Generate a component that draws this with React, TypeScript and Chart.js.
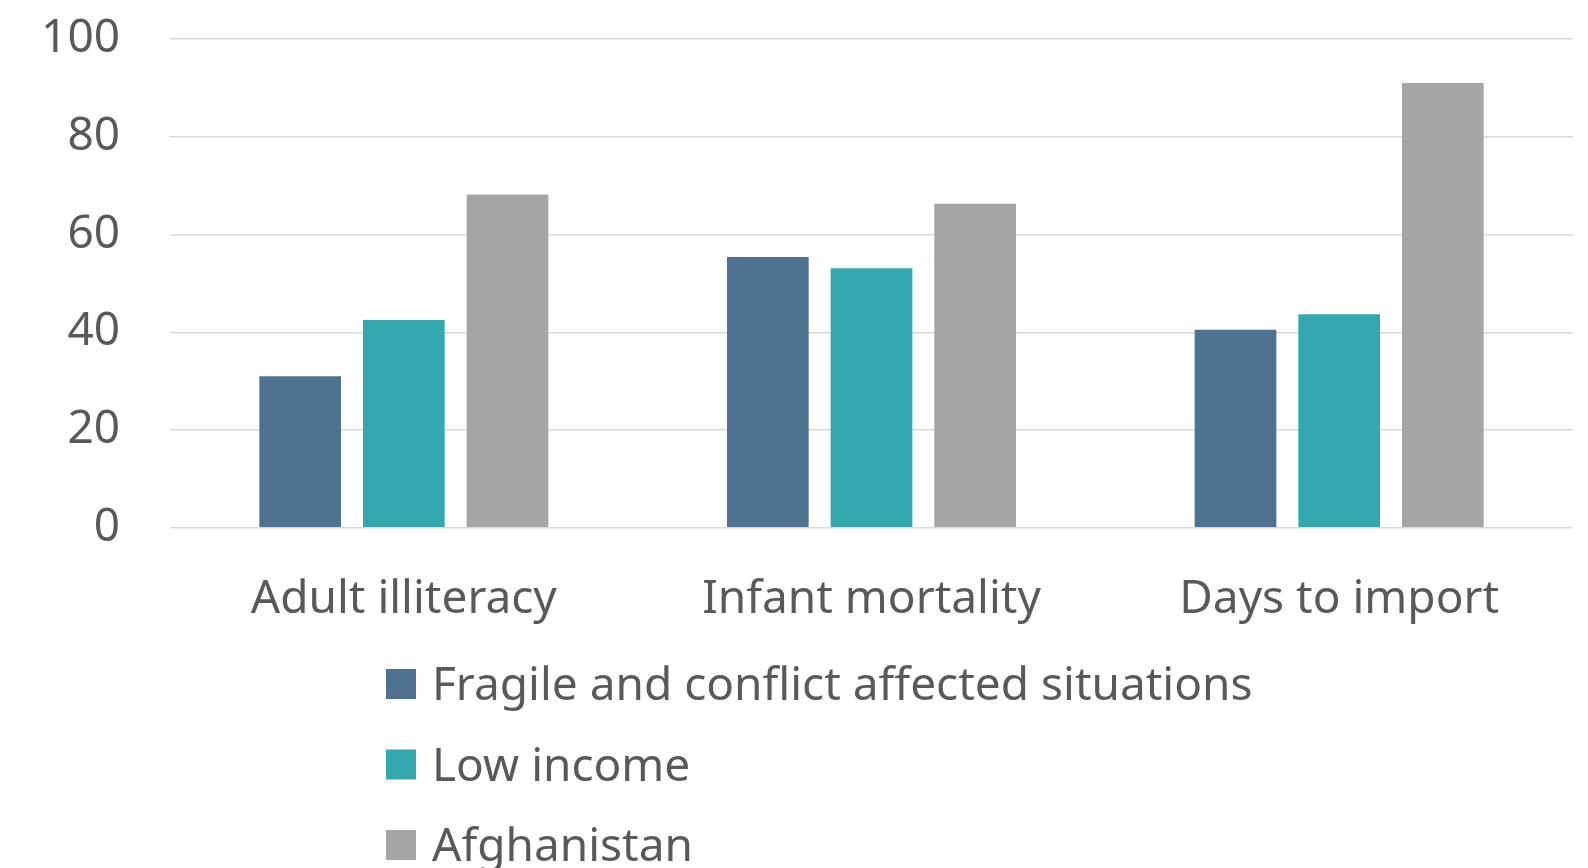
import React, { useEffect, useRef } from "react";
import { Chart, registerables } from "chart.js";

Chart.register(...registerables);

const categories = ["Adult illiteracy", "Infant mortality", "Days to import"];
const seriesNames = ["Fragile and conflict affected situations", "Low income", "Afghanistan"];
const fragileValues = [31.0, 55.4, 40.5];
const lowIncomeValues = [42.5, 53.1, 43.7];
const afghanistanValues = [68.2, 66.3, 91.0];
const yTicks = [0, 20, 40, 60, 80, 100];

const colors = ["#4f7291", "#34a8af", "#a5a5a5"];
const textColor = "#595959";
const fontFamily = "'Noto Sans', 'Open Sans', sans-serif";

const legendPlugin = {
  id: "stackedLegend",
  afterDraw(chart: any, _args: any, opts: any) {
    const ctx = chart.ctx;
    ctx.save();
    ctx.font = `${opts.fontSize}px ${fontFamily}`;
    ctx.textBaseline = "middle";
    ctx.textAlign = "left";
    chart.data.datasets.forEach((ds: any, i: number) => {
      const cy = opts.top + i * opts.rowGap;
      ctx.fillStyle = ds.backgroundColor;
      ctx.fillRect(opts.left, cy - opts.box / 2, opts.box, opts.box);
      ctx.fillStyle = textColor;
      ctx.fillText(ds.label, opts.left + opts.box + opts.gap, cy + opts.textShift);
    });
    ctx.restore();
  },
};

export default function App() {
  const ref = useRef<HTMLCanvasElement | null>(null);
  useEffect(() => {
    if (!ref.current) return;
    const chart = new Chart(ref.current, {
      type: "bar",
      data: {
        labels: categories,
        datasets: [
          { label: seriesNames[0], data: fragileValues, backgroundColor: colors[0] },
          { label: seriesNames[1], data: lowIncomeValues, backgroundColor: colors[1] },
          { label: seriesNames[2], data: afghanistanValues, backgroundColor: colors[2] },
        ],
      },
      options: {
        responsive: false,
        animation: false,
        layout: { padding: { top: 39, right: 15, bottom: 205, left: 0 } },
        datasets: {
          bar: { categoryPercentage: 0.665, barPercentage: 0.788, borderWidth: 0 },
        },
        scales: {
          x: {
            grid: { display: false },
            border: { display: false },
            ticks: {
              color: textColor,
              padding: 36,
              font: { family: fontFamily, size: 46 },
              maxRotation: 0,
            },
          },
          y: {
            min: 0,
            max: 100,
            afterBuildTicks(scale: any) {
              scale.ticks = yTicks.map((v) => ({ value: v }));
            },
            afterFit(scale: any) {
              scale.width = 170;
            },
            grid: {
              color: "#d9d9d9",
              lineWidth: 1.5,
              drawTicks: true,
              tickLength: 40,
              tickColor: "rgba(0,0,0,0)",
            },
            border: { display: false },
            ticks: {
              color: textColor,
              padding: 10,
              font: { family: fontFamily, size: 46 },
            },
          },
        },
        plugins: {
          legend: { display: false },
          tooltip: { enabled: false },
          stackedLegend: { left: 386, top: 684, rowGap: 80.5, box: 30, gap: 16, fontSize: 46, textShift: 3 },
        } as any,
      },
      plugins: [legendPlugin],
    });
    return () => chart.destroy();
  }, []);
  return (
    <div style={{ position: "absolute", left: 0, top: 0, width: 1588, height: 868, background: "#fff" }}>
      <canvas ref={ref} width={1588} height={868} />
    </div>
  );
}
